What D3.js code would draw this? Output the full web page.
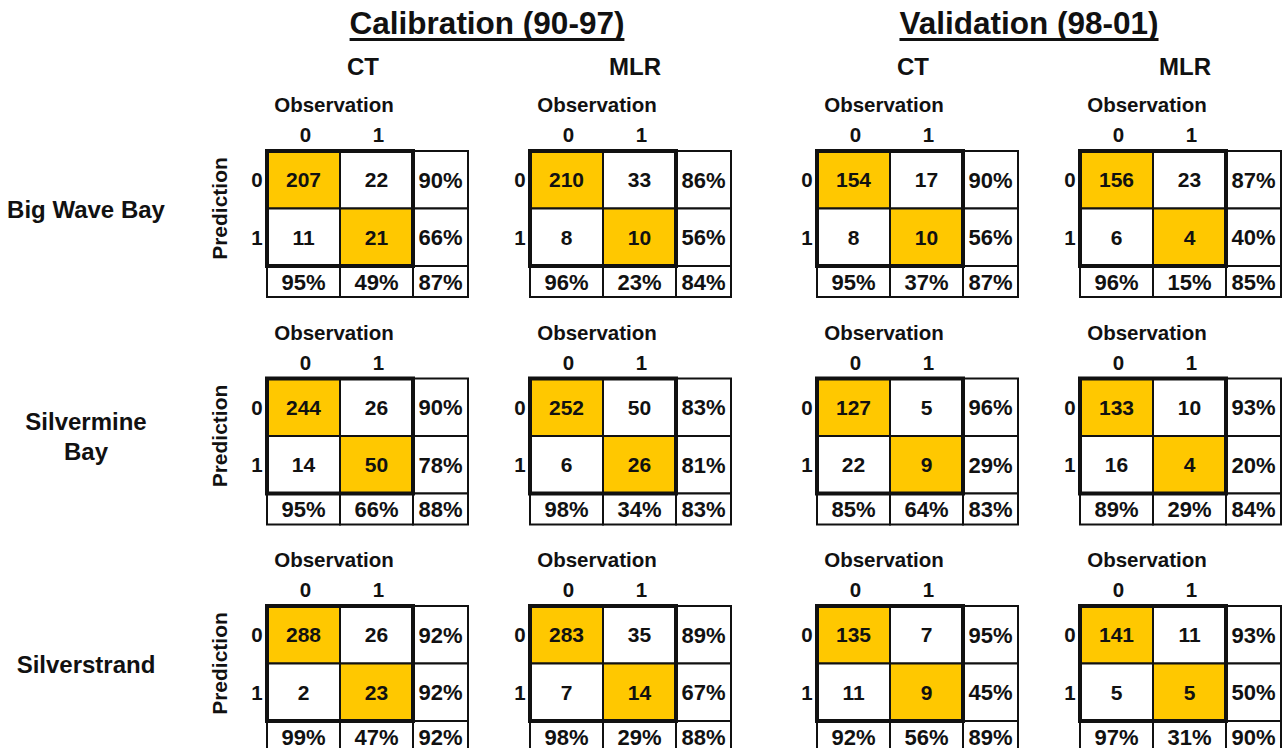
<!DOCTYPE html>
<html>
<head>
<meta charset="utf-8">
<script src="https://cdn.jsdelivr.net/npm/d3@7"></script>
<style>
  body { margin: 0; background: #fff; }
  svg text { font-family: "Liberation Sans", Arial, sans-serif; font-weight: bold; fill: #111; }
</style>
</head>
<body>
<div id="chart"></div>
<script>
var periods = ["Calibration (90-97)", "Validation (98-01)"];
var models = ["CT", "MLR"];
var sites = ["Big Wave Bay", "Silvermine Bay", "Silverstrand"];
var classes = ["0", "1"];

// counts per matrix: [pred0/obs0, pred0/obs1, pred1/obs0, pred1/obs1]
// order: site -> period -> model
var counts = [
  [[[207, 22, 11, 21], [210, 33, 8, 10]], [[154, 17, 8, 10], [156, 23, 6, 4]]],
  [[[244, 26, 14, 50], [252, 50, 6, 26]], [[127, 5, 22, 9], [133, 10, 16, 4]]],
  [[[288, 26, 2, 23], [283, 35, 7, 14]], [[135, 7, 11, 9], [141, 11, 5, 5]]]
];
// row percentages (prediction 0, prediction 1)
var rowPct = [
  [[[90, 66], [86, 56]], [[90, 56], [87, 40]]],
  [[[90, 78], [83, 81]], [[96, 29], [93, 20]]],
  [[[92, 92], [89, 67]], [[95, 45], [93, 50]]]
];
// column percentages (observation 0, observation 1)
var colPct = [
  [[[95, 49], [96, 23]], [[95, 37], [96, 15]]],
  [[[95, 66], [98, 34]], [[85, 64], [89, 29]]],
  [[[99, 47], [98, 29]], [[92, 56], [97, 31]]]
];
// overall percentage
var totalPct = [
  [[87, 84], [87, 85]],
  [[88, 83], [83, 84]],
  [[92, 88], [89, 90]]
];

var width = 1283, height = 748;
var svg = d3.select("#chart").append("svg")
  .attr("width", width)
  .attr("height", height);

var xPeriod = d3.scalePoint().domain(periods).range([267, 817]);
var xModel = d3.scalePoint().domain(models).range([0, 263]);
var ySite = d3.scalePoint().domain(sites).range([151, 606]);

// inside one matrix
var xCell = d3.scaleBand().domain(classes).range([0, 146]);
var yCell = d3.scaleBand().domain(classes).range([0, 115]);
var pctW = 55, pctH = 31;

var yellow = "#ffc800";

// titles
periods.forEach(function (p, i) {
  var t = svg.append("text")
    .attr("x", xPeriod(p) + (i === 0 ? 220 : 212))
    .attr("y", 34)
    .attr("text-anchor", "middle")
    .style("font-size", "31.5px")
    .text(p);
  var bb = t.node().getBBox();
  svg.append("line")
    .attr("x1", bb.x).attr("x2", bb.x + bb.width)
    .attr("y1", 39.5).attr("y2", 39.5)
    .attr("stroke", "#111").attr("stroke-width", 3);
  models.forEach(function (m) {
    svg.append("text")
      .attr("x", xPeriod(p) + xModel(m) + (m === "CT" ? 96 : 105))
      .attr("y", 75)
      .attr("text-anchor", "middle")
      .style("font-size", "24px")
      .text(m);
  });
});

// site labels
sites.forEach(function (s) {
  var cy = ySite(s) + yCell.range()[1] / 2;
  var words = s === "Silvermine Bay" ? ["Silvermine", "Bay"] : [s];
  var t = svg.append("text")
    .attr("x", 86)
    .attr("text-anchor", "middle")
    .style("font-size", "24px");
  words.forEach(function (w, i) {
    t.append("tspan")
      .attr("x", 86)
      .attr("y", cy + 9 + (i - (words.length - 1) / 2) * 30)
      .text(w);
  });
});

sites.forEach(function (s, si) {
  periods.forEach(function (p, pi) {
    models.forEach(function (m, mi) {
      var g = svg.append("g")
        .attr("transform", "translate(" + (xPeriod(p) + xModel(m)) + "," + ySite(s) + ")");

      var cells = [];
      classes.forEach(function (r, ri) {
        classes.forEach(function (c, ci) {
          cells.push({r: r, c: c, v: counts[si][pi][mi][ri * 2 + ci], hit: r === c});
        });
      });

      // percent column and bottom row
      var extra = [];
      classes.forEach(function (r, ri) {
        extra.push({x: xCell.range()[1], y: yCell(r), w: pctW, h: yCell.bandwidth(), t: rowPct[si][pi][mi][ri] + "%"});
      });
      classes.forEach(function (c, ci) {
        extra.push({x: xCell(c), y: yCell.range()[1], w: xCell.bandwidth(), h: pctH, t: colPct[si][pi][mi][ci] + "%"});
      });
      extra.push({x: xCell.range()[1], y: yCell.range()[1], w: pctW, h: pctH, t: totalPct[si][pi][mi] + "%"});

      g.selectAll(".cell").data(cells).enter().append("rect")
        .attr("class", "cell")
        .attr("x", function (d) { return xCell(d.c); })
        .attr("y", function (d) { return yCell(d.r); })
        .attr("width", xCell.bandwidth())
        .attr("height", yCell.bandwidth())
        .attr("fill", function (d) { return d.hit ? yellow : "#fff"; })
        .attr("stroke", "#111")
        .attr("stroke-width", 2);

      g.selectAll(".extra").data(extra).enter().append("rect")
        .attr("class", "extra")
        .attr("x", function (d) { return d.x; })
        .attr("y", function (d) { return d.y; })
        .attr("width", function (d) { return d.w; })
        .attr("height", function (d) { return d.h; })
        .attr("fill", "#fff")
        .attr("stroke", "#111")
        .attr("stroke-width", 2);

      // thick frame around the 2x2 block
      g.append("rect")
        .attr("x", 0).attr("y", 0)
        .attr("width", xCell.range()[1])
        .attr("height", yCell.range()[1])
        .attr("fill", "none")
        .attr("stroke", "#111")
        .attr("stroke-width", 4);

      g.selectAll(".val").data(cells).enter().append("text")
        .attr("class", "val")
        .attr("x", function (d) { return xCell(d.c) + xCell.bandwidth() / 2; })
        .attr("y", function (d) { return yCell(d.r) + yCell.bandwidth() / 2 + 7.5; })
        .attr("text-anchor", "middle")
        .style("font-size", "21px")
        .text(function (d) { return d.v; });

      g.selectAll(".pct").data(extra).enter().append("text")
        .attr("class", "pct")
        .attr("x", function (d) { return d.x + d.w / 2; })
        .attr("y", function (d) { return d.y + d.h / 2 + 8; })
        .attr("text-anchor", "middle")
        .style("font-size", "22px")
        .text(function (d) { return d.t; });

      // axis labels
      g.append("text")
        .attr("x", xCell.range()[1] / 2 - 6)
        .attr("y", -39)
        .attr("text-anchor", "middle")
        .style("font-size", "20.5px")
        .text("Observation");
      g.selectAll(".ocls").data(classes).enter().append("text")
        .attr("class", "ocls")
        .attr("x", function (d) { return xCell(d) + xCell.bandwidth() / 2 + 2; })
        .attr("y", -9)
        .attr("text-anchor", "middle")
        .style("font-size", "20.5px")
        .text(function (d) { return d; });
      g.selectAll(".pcls").data(classes).enter().append("text")
        .attr("class", "pcls")
        .attr("x", -10)
        .attr("y", function (d) { return yCell(d) + yCell.bandwidth() / 2 + 7.5; })
        .attr("text-anchor", "middle")
        .style("font-size", "20.5px")
        .text(function (d) { return d; });

      if (pi === 0 && mi === 0) {
        g.append("text")
          .attr("transform", "translate(-40," + (yCell.range()[1] / 2) + ") rotate(-90)")
          .attr("text-anchor", "middle")
          .style("font-size", "21px")
          .text("Prediction");
      }
    });
  });
});
</script>
</body>
</html>
